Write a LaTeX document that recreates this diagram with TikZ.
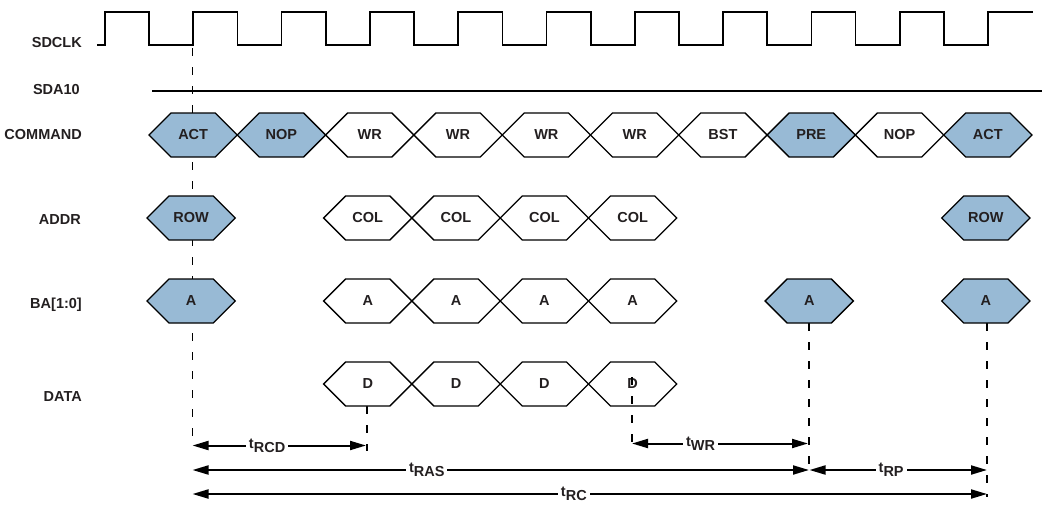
\documentclass[tikz,border=0pt]{standalone}
\usepackage{fontspec}
\setmainfont{Liberation Sans}
\usetikzlibrary{positioning,calc,arrows.meta}
\definecolor{cmdblue}{RGB}{152,186,213}
\definecolor{ink}{RGB}{35,31,32}
\tikzset{
    timing/.style={
        x=1pt, y=-1pt,
        font=\fontsize{14.5}{17}\selectfont\bfseries,
        % nomi dei segnali
        signame/.style={anchor=east, text=ink, inner sep=0pt},
        clockline/.style={line width=1.7pt, line join=miter},
        levelline/.style={line width=1.7pt},
        % valori sul bus (esagoni)
        busline/.style={line width=1.3pt, line join=miter},
        buslabel/.style={text=ink, inner sep=1pt},
        % linee guida e tempi
        guide/.style={line width=1.3pt, dash pattern=on 8pt off 11pt},
        span/.style={{Triangle[length=16pt,width=9pt]}-{Triangle[length=16pt,width=9pt]},
                     line width=2pt},
        spanlabel/.style={fill=white, inner sep=3pt, text=ink}
    }
}
\newcommand{\busval}[5]{%
  \draw[busline, fill=#4] (#2,#3) -- ++(22,-22) -- ++(44.3,0) -- ++(22,22)
    -- ++(-22,22) -- ++(-44.3,0) -- cycle;
  \node[buslabel] (#1) at (#2+44.15,#3) {#5};
}
\newcommand{\tlab}[1]{t\raisebox{-4pt}{#1}}

\begin{document}
\begin{tikzpicture}[timing]
  \useasboundingbox (0,0) rectangle (1053,504);

  % Nomi
  \node[signame] (sdclk) at (82,43) {SDCLK};
  \node[signame] (sda10) at (80,90) {SDA10};
  \node[signame] (command) at (82,135) {COMMAND};
  \node[signame] (addr) at (81,220) {ADDR};
  \node[signame] (ba) at (82,305) {BA[1:0]};
  \node[signame] (data) at (82,397) {DATA};

  % Guide
  \coordinate (g0top) at (192.5,48);  \coordinate (g0bot) at (192.5,446);
  \coordinate (g1top) at (367,406);   \coordinate (g1bot) at (367,451);
  \coordinate (g2top) at (632,377);   \coordinate (g2bot) at (632,444);
  \coordinate (g3top) at (809,323);   \coordinate (g3bot) at (809,475);
  \coordinate (g4top) at (987,323);   \coordinate (g4bot) at (987,497);
  \draw[guide] (g0top) -- (g0bot);
  \draw[guide] (g1top) -- (g1bot);
  \draw[guide] (g3top) -- (g3bot);
  \draw[guide] (g4top) -- (g4bot);

  % Clock e SDA10
  \draw[clockline] (97,45) \foreach \k in {0,...,9} {
      -- (105+\k*88.3,45) -- ++(0,-33) -- ++(44.15,0) -- ++(0,33) }
    -- (988,45) -- (988,12) -- (1033,12);
  \draw[levelline] (152,90.7) -- (1042,90.7);

  % COMMAND
  \foreach \k/\lab/\col in {0/ACT/cmdblue, 1/NOP/cmdblue, 2/WR/white, 3/WR/white,
      4/WR/white, 5/WR/white, 6/BST/white, 7/PRE/cmdblue, 8/NOP/white, 9/ACT/cmdblue}
    \busval{cmd\k}{149+\k*88.3}{135}{\col}{\lab};

  % ADDR
  \foreach \k/\lab/\col in {0/ROW/cmdblue, 2/COL/white, 3/COL/white, 4/COL/white,
      5/COL/white, 9/ROW/cmdblue}
    \busval{addr\k}{147+\k*88.3}{218}{\col}{\lab};

  % BA[1:0]
  \foreach \k/\col in {0/cmdblue, 2/white, 3/white, 4/white, 5/white, 7/cmdblue, 9/cmdblue}
    \busval{ba\k}{147+\k*88.3}{301}{\col}{A};

  % DATA
  \foreach \k in {2,...,5}
    \busval{data\k}{147+\k*88.3}{384}{white}{D};
  \draw[guide] (g2top) -- (g2bot);

  % Tempi
  \coordinate (rcdL) at (192.5,445.5); \coordinate (rcdR) at (366,445.5);
  \coordinate (wrL) at (632,443.5);    \coordinate (wrR) at (808,443.5);
  \coordinate (rasL) at (192.5,470);   \coordinate (rasR) at (809,470);
  \coordinate (rpL) at (809.5,470);    \coordinate (rpR) at (987,470);
  \coordinate (rcL) at (192.5,494);    \coordinate (rcR) at (987,494);
  \draw[span] (rcdL) -- node[spanlabel, pos=0.43] (trcd) {\tlab{RCD}} (rcdR);
  \draw[span] (wrL) -- node[spanlabel, pos=0.39] (twr) {\tlab{WR}} (wrR);
  \draw[span] (rasL) -- node[spanlabel, pos=0.38] (tras) {\tlab{RAS}} (rasR);
  \draw[span] (rpL) -- node[spanlabel, pos=0.46] (trp) {\tlab{RP}} (rpR);
  \draw[span] (rcL) -- node[spanlabel, pos=0.48] (trc) {\tlab{RC}} (rcR);
\end{tikzpicture}
\end{document}
